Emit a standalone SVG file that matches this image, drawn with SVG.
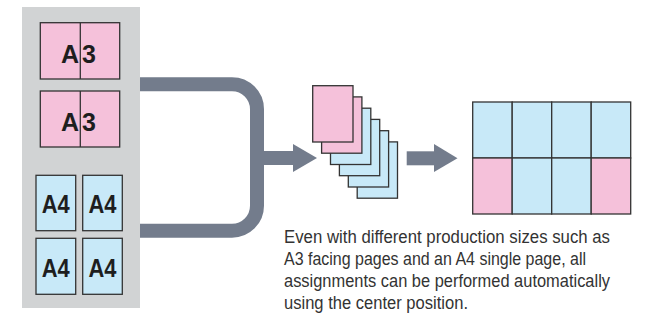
<svg xmlns="http://www.w3.org/2000/svg" width="653" height="322" viewBox="0 0 653 322">
<style>
.pk{fill:#f5c1da;stroke:#333;stroke-width:1.3}
.bl{fill:#c8e9f8;stroke:#333;stroke-width:1.3}
.lbl{font-family:"Liberation Sans",Arial,sans-serif;font-weight:bold;font-size:25px;fill:#1e1e1e}
.mid{text-anchor:middle}
.cap{font-family:"Liberation Sans Narrow","Liberation Sans",Arial,sans-serif;font-size:17.5px;fill:#333}
.conn{fill:none;stroke:#737c8c;stroke-width:14}
.head{fill:#737c8c}
</style>
<rect x="0" y="0" width="653" height="322" fill="#fff"/>
<g id="panel">
<rect x="22" y="7" width="118" height="301" fill="#d1d3d4"/>
</g>
<g id="a3-1">
<rect class="pk" x="40.3" y="22.7" width="79.4" height="56.3"/>
<line x1="80.3" y1="22.7" x2="80.3" y2="79" stroke="#333" stroke-width="1.3"/>
<text class="lbl" x="61" y="62.7" textLength="35" lengthAdjust="spacing">A3</text>
</g>
<g id="a3-2">
<rect class="pk" x="40.3" y="91" width="79.4" height="56"/>
<line x1="80.3" y1="91" x2="80.3" y2="147" stroke="#333" stroke-width="1.3"/>
<text class="lbl" x="61" y="131" textLength="35" lengthAdjust="spacing">A3</text>
</g>
<g id="a4-1">
<rect class="bl" x="36" y="175.3" width="39.7" height="55.4"/>
<text class="lbl mid" x="55.7" y="213.3" textLength="28" lengthAdjust="spacingAndGlyphs">A4</text>
</g>
<g id="a4-2">
<rect class="bl" x="82.7" y="175.3" width="39.6" height="55.4"/>
<text class="lbl mid" x="102.5" y="213.3" textLength="28" lengthAdjust="spacingAndGlyphs">A4</text>
</g>
<g id="a4-3">
<rect class="bl" x="36" y="238.3" width="39.7" height="56"/>
<text class="lbl mid" x="55.7" y="276.5" textLength="28" lengthAdjust="spacingAndGlyphs">A4</text>
</g>
<g id="a4-4">
<rect class="bl" x="82.7" y="238.3" width="39.6" height="56"/>
<text class="lbl mid" x="102.5" y="276.5" textLength="28" lengthAdjust="spacingAndGlyphs">A4</text>
</g>
<g id="connectors">
<path class="conn" d="M140,84.2 H232 A25,25 0 0 1 257,109.2 V205.7 A25,25 0 0 1 232,230.7 H140"/>
<path class="conn" d="M257,158 H295" stroke-width="13"/>
<polygon class="head" points="293,144 317,158 293,172"/>
<path class="conn" d="M406.7,158.3 H436" stroke-width="13"/>
<polygon class="head" points="434,144 457.5,158.3 434,172"/>
</g>
<g id="stack">
<rect class="bl" x="357.2" y="141.9" width="40.3" height="56.3"/>
<rect class="bl" x="348.3" y="130.7" width="40.3" height="56.3"/>
<rect class="bl" x="339.4" y="119.4" width="40.3" height="56.3"/>
<rect class="bl" x="330.5" y="108.2" width="40.3" height="56.3"/>
<rect class="pk" x="321.6" y="96.9" width="40.3" height="56.3"/>
<rect class="pk" x="312.7" y="85.7" width="40.3" height="56.3"/>
</g>
<g id="grid">
<rect class="bl" x="472.7" y="102" width="39.5" height="56"/>
<rect class="bl" x="512.2" y="102" width="39.5" height="56"/>
<rect class="bl" x="551.7" y="102" width="39.5" height="56"/>
<rect class="bl" x="591.2" y="102" width="39.5" height="56"/>
<rect class="pk" x="472.7" y="158" width="39.5" height="56"/>
<rect class="bl" x="512.2" y="158" width="39.5" height="56"/>
<rect class="bl" x="551.7" y="158" width="39.5" height="56"/>
<rect class="pk" x="591.2" y="158" width="39.5" height="56"/>
</g>
<g id="caption">
<text class="cap" x="284" y="243" textLength="326" lengthAdjust="spacingAndGlyphs">Even with different production sizes such as</text>
<text class="cap" x="284" y="265" textLength="302" lengthAdjust="spacingAndGlyphs">A3 facing pages and an A4 single page, all</text>
<text class="cap" x="284" y="287" textLength="326" lengthAdjust="spacingAndGlyphs">assignments can be performed automatically</text>
<text class="cap" x="284" y="309" textLength="184" lengthAdjust="spacingAndGlyphs">using the center position.</text>
</g>
</svg>
